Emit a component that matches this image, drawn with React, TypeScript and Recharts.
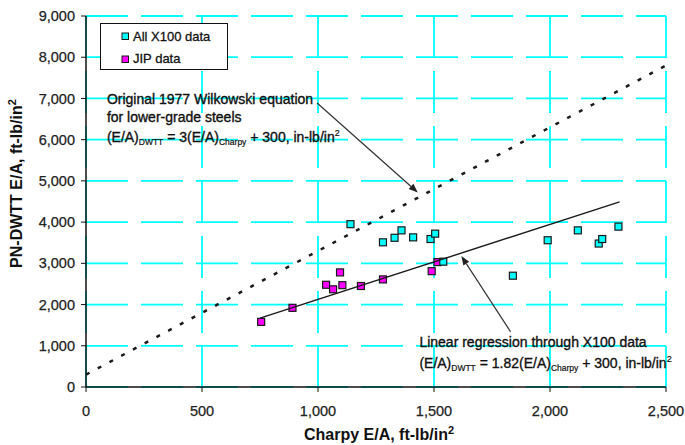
import React from 'react';
import {
  ScatterChart,
  Scatter,
  XAxis,
  YAxis,
  CartesianGrid,
  ReferenceLine,
  ReferenceDot,
} from 'recharts';

// Charpy E/A (ft-lb/in2) and PN-DWTT E/A (ft-lb/in2)
const x100Charpy = [1140, 1280, 1330, 1360, 1410, 1485, 1505, 1540, 1840, 1990, 2120, 2210, 2225, 2295];
const x100Dwtt = [3950, 3510, 3620, 3800, 3630, 3590, 3720, 3040, 2700, 3560, 3800, 3480, 3590, 3890];

const jipCharpy = [755, 890, 1035, 1065, 1095, 1105, 1185, 1280, 1490, 1515];
const jipDwtt = [1580, 1920, 2480, 2370, 2780, 2470, 2450, 2610, 2810, 3030];

// end points of the two straight lines
const wilkowskiCharpy = [0, 2500];
const wilkowskiDwtt = [300, 7800];
const regressionCharpy = [750, 2300];
const regressionDwtt = [1670, 4490];

const xTicks = [0, 500, 1000, 1500, 2000, 2500];
const yTicks = [0, 1000, 2000, 3000, 4000, 5000, 6000, 7000, 8000, 9000];

const pair = (xs: number[], ys: number[]) => xs.map((x, i) => ({ x, y: ys[i] }));

const x100Data = pair(x100Charpy, x100Dwtt);
const jipData = pair(jipCharpy, jipDwtt);
const wilkowskiData = pair(wilkowskiCharpy, wilkowskiDwtt);
const regressionData = pair(regressionCharpy, regressionDwtt);

const FONT = '"Liberation Sans", Arial, sans-serif';
const CYAN = '#00ffff';
const MAGENTA = '#ff00ff';
const INK = '#111';

const square = (color: string) => (p: any) => (
  <rect x={p.cx - 3.5} y={p.cy - 3.5} width={7} height={7} fill={color} stroke="#1a1a1a" strokeWidth={1.2} />
);

const noDot = () => <g />;

const Arrow = (p: any) => {
  const { x1, y1, x2, y2 } = p;
  const a = Math.atan2(y2 - y1, x2 - x1);
  const len = 9;
  const w = 3.5;
  const bx = x2 - len * Math.cos(a);
  const by = y2 - len * Math.sin(a);
  const pts = [
    `${x2},${y2}`,
    `${bx + w * Math.sin(a)},${by - w * Math.cos(a)}`,
    `${bx - w * Math.sin(a)},${by + w * Math.cos(a)}`,
  ].join(' ');
  return (
    <g>
      <line x1={x1} y1={y1} x2={bx} y2={by} stroke="#333" strokeWidth={1.2} />
      <polygon points={pts} fill="#222" />
    </g>
  );
};

// slightly heavier text, the source is a blurry scan
const noteText = { fontFamily: FONT, fontSize: 14, fill: INK, stroke: INK, strokeWidth: 0.35 };

const WilkowskiNote = (p: any) => (
  <g {...noteText}>
    <text x={p.cx} y={p.cy}>Original 1977 Wilkowski equation</text>
    <text x={p.cx} y={p.cy + 17.5}>for lower-grade steels</text>
    <text x={p.cx} y={p.cy + 38}>
      (E/A)
      <tspan fontSize={8.5} dy={3} strokeWidth={0.2}>DWTT</tspan>
      <tspan dy={-3}> = 3(E/A)</tspan>
      <tspan fontSize={8.5} dy={3} strokeWidth={0.2}>Charpy</tspan>
      <tspan dy={-3}> + 300, in-lb/in</tspan>
      <tspan fontSize={9} dy={-6} strokeWidth={0.2}>2</tspan>
    </text>
  </g>
);

const RegressionNote = (p: any) => (
  <g {...noteText}>
    <text x={p.cx} y={p.cy}>Linear regression through X100 data</text>
    <text x={p.cx} y={p.cy + 21.5}>
      (E/A)
      <tspan fontSize={8.5} dy={3} strokeWidth={0.2}>DWTT</tspan>
      <tspan dy={-3}> = 1.82(E/A)</tspan>
      <tspan fontSize={8.5} dy={3} strokeWidth={0.2}>Charpy</tspan>
      <tspan dy={-3}> + 300, in-lb/in</tspan>
      <tspan fontSize={9} dy={-6} strokeWidth={0.2}>2</tspan>
    </text>
  </g>
);

const YTitle = (props: any) => {
  const vb = props.viewBox;
  const cx = vb.x + 6;
  const cy = vb.y + vb.height / 2 - 18;
  return (
    <text
      x={cx}
      y={cy}
      transform={`rotate(-90, ${cx}, ${cy})`}
      textAnchor="middle"
      fontFamily={FONT}
      fontSize={16}
      fontWeight="bold"
      fill={INK}
    >
      PN-DWTT E/A, ft-lb/in
      <tspan fontSize={11} dy={-6}>2</tspan>
    </text>
  );
};

const XTitle = (props: any) => {
  const vb = props.viewBox;
  return (
    <text
      x={vb.x + vb.width / 2 + 3}
      y={vb.y + 53}
      textAnchor="middle"
      fontFamily={FONT}
      fontSize={16}
      fontWeight="bold"
      fill={INK}
    >
      Charpy E/A, ft-lb/in
      <tspan fontSize={11} dy={-6}>2</tspan>
    </text>
  );
};

const tickStyle = { fontFamily: FONT, fontSize: 14.5, fill: '#222', stroke: '#222', strokeWidth: 0.25 };

export default function App() {
  return (
    <div style={{ position: 'absolute', left: 0, top: 0, width: 685, height: 445, background: '#fff' }}>
      <ScatterChart width={685} height={445} margin={{ top: 16, right: 19, bottom: 18, left: 16 }}>
        <CartesianGrid stroke={CYAN} strokeWidth={1.8} strokeDasharray="42 13" />
        <XAxis
          type="number"
          dataKey="x"
          domain={[0, 2500]}
          ticks={xTicks}
          height={40}
          tick={tickStyle}
          tickSize={5}
          tickMargin={14}
          tickFormatter={(v: number) => v.toLocaleString('en-US')}
          axisLine={{ stroke: INK, strokeWidth: 1.5 }}
          tickLine={{ stroke: INK }}
          label={(props: any) => <XTitle {...props} />}
        />
        <XAxis
          xAxisId="top"
          orientation="top"
          type="number"
          domain={[0, 2500]}
          height={0}
          tick={false}
          tickLine={false}
          axisLine={{ stroke: INK, strokeWidth: 1.5 }}
        />
        <YAxis
          type="number"
          dataKey="y"
          domain={[0, 9000]}
          ticks={yTicks}
          width={70}
          tick={tickStyle}
          tickSize={5}
          tickMargin={6}
          tickFormatter={(v: number) => v.toLocaleString('en-US')}
          axisLine={{ stroke: INK, strokeWidth: 1.5 }}
          tickLine={{ stroke: INK }}
          label={(props: any) => <YTitle {...props} />}
        />
        <YAxis
          yAxisId="right"
          orientation="right"
          type="number"
          domain={[0, 9000]}
          width={0}
          tick={false}
          tickLine={false}
          axisLine={{ stroke: INK, strokeWidth: 1.5 }}
        />

        <Scatter name="JIP data" data={jipData} shape={square(MAGENTA)} isAnimationActive={false} />
        <Scatter name="All X100 data" data={x100Data} shape={square(CYAN)} isAnimationActive={false} />

        <Scatter
          data={wilkowskiData}
          shape={noDot}
          line={{ stroke: '#1a1a1a', strokeWidth: 2.5, strokeDasharray: '4 9.3' }}
          isAnimationActive={false}
        />
        <Scatter
          data={regressionData}
          shape={noDot}
          line={{ stroke: '#1a1a1a', strokeWidth: 1.4 }}
          isAnimationActive={false}
        />

        <ReferenceLine segment={[{ x: 996, y: 6890 }, { x: 1430, y: 4720 }]} shape={Arrow} />
        <ReferenceLine segment={[{ x: 1830, y: 1340 }, { x: 1618, y: 3175 }]} shape={Arrow} />

        <ReferenceDot x={90} y={6860} r={0} shape={WilkowskiNote} />
        <ReferenceDot x={1437} y={980} r={0} shape={RegressionNote} />
      </ScatterChart>

      <svg
        width={685}
        height={445}
        style={{ position: 'absolute', left: 0, top: 0, pointerEvents: 'none' }}
      >
        <rect x={100.5} y={23.5} width={127} height={46} fill="#fff" stroke={INK} strokeWidth={1} />
        <rect x={122} y={33} width={6.5} height={6.5} fill={CYAN} stroke="#1a1a1a" strokeWidth={1} />
        <text x={133} y={40.5} fontFamily={FONT} fontSize={13} fill={INK} stroke={INK} strokeWidth={0.3}>
          All X100 data
        </text>
        <rect x={122} y={56} width={6.5} height={6.5} fill={MAGENTA} stroke="#1a1a1a" strokeWidth={1} />
        <text x={133} y={63} fontFamily={FONT} fontSize={13} fill={INK} stroke={INK} strokeWidth={0.3}>
          JIP data
        </text>
      </svg>
    </div>
  );
}
